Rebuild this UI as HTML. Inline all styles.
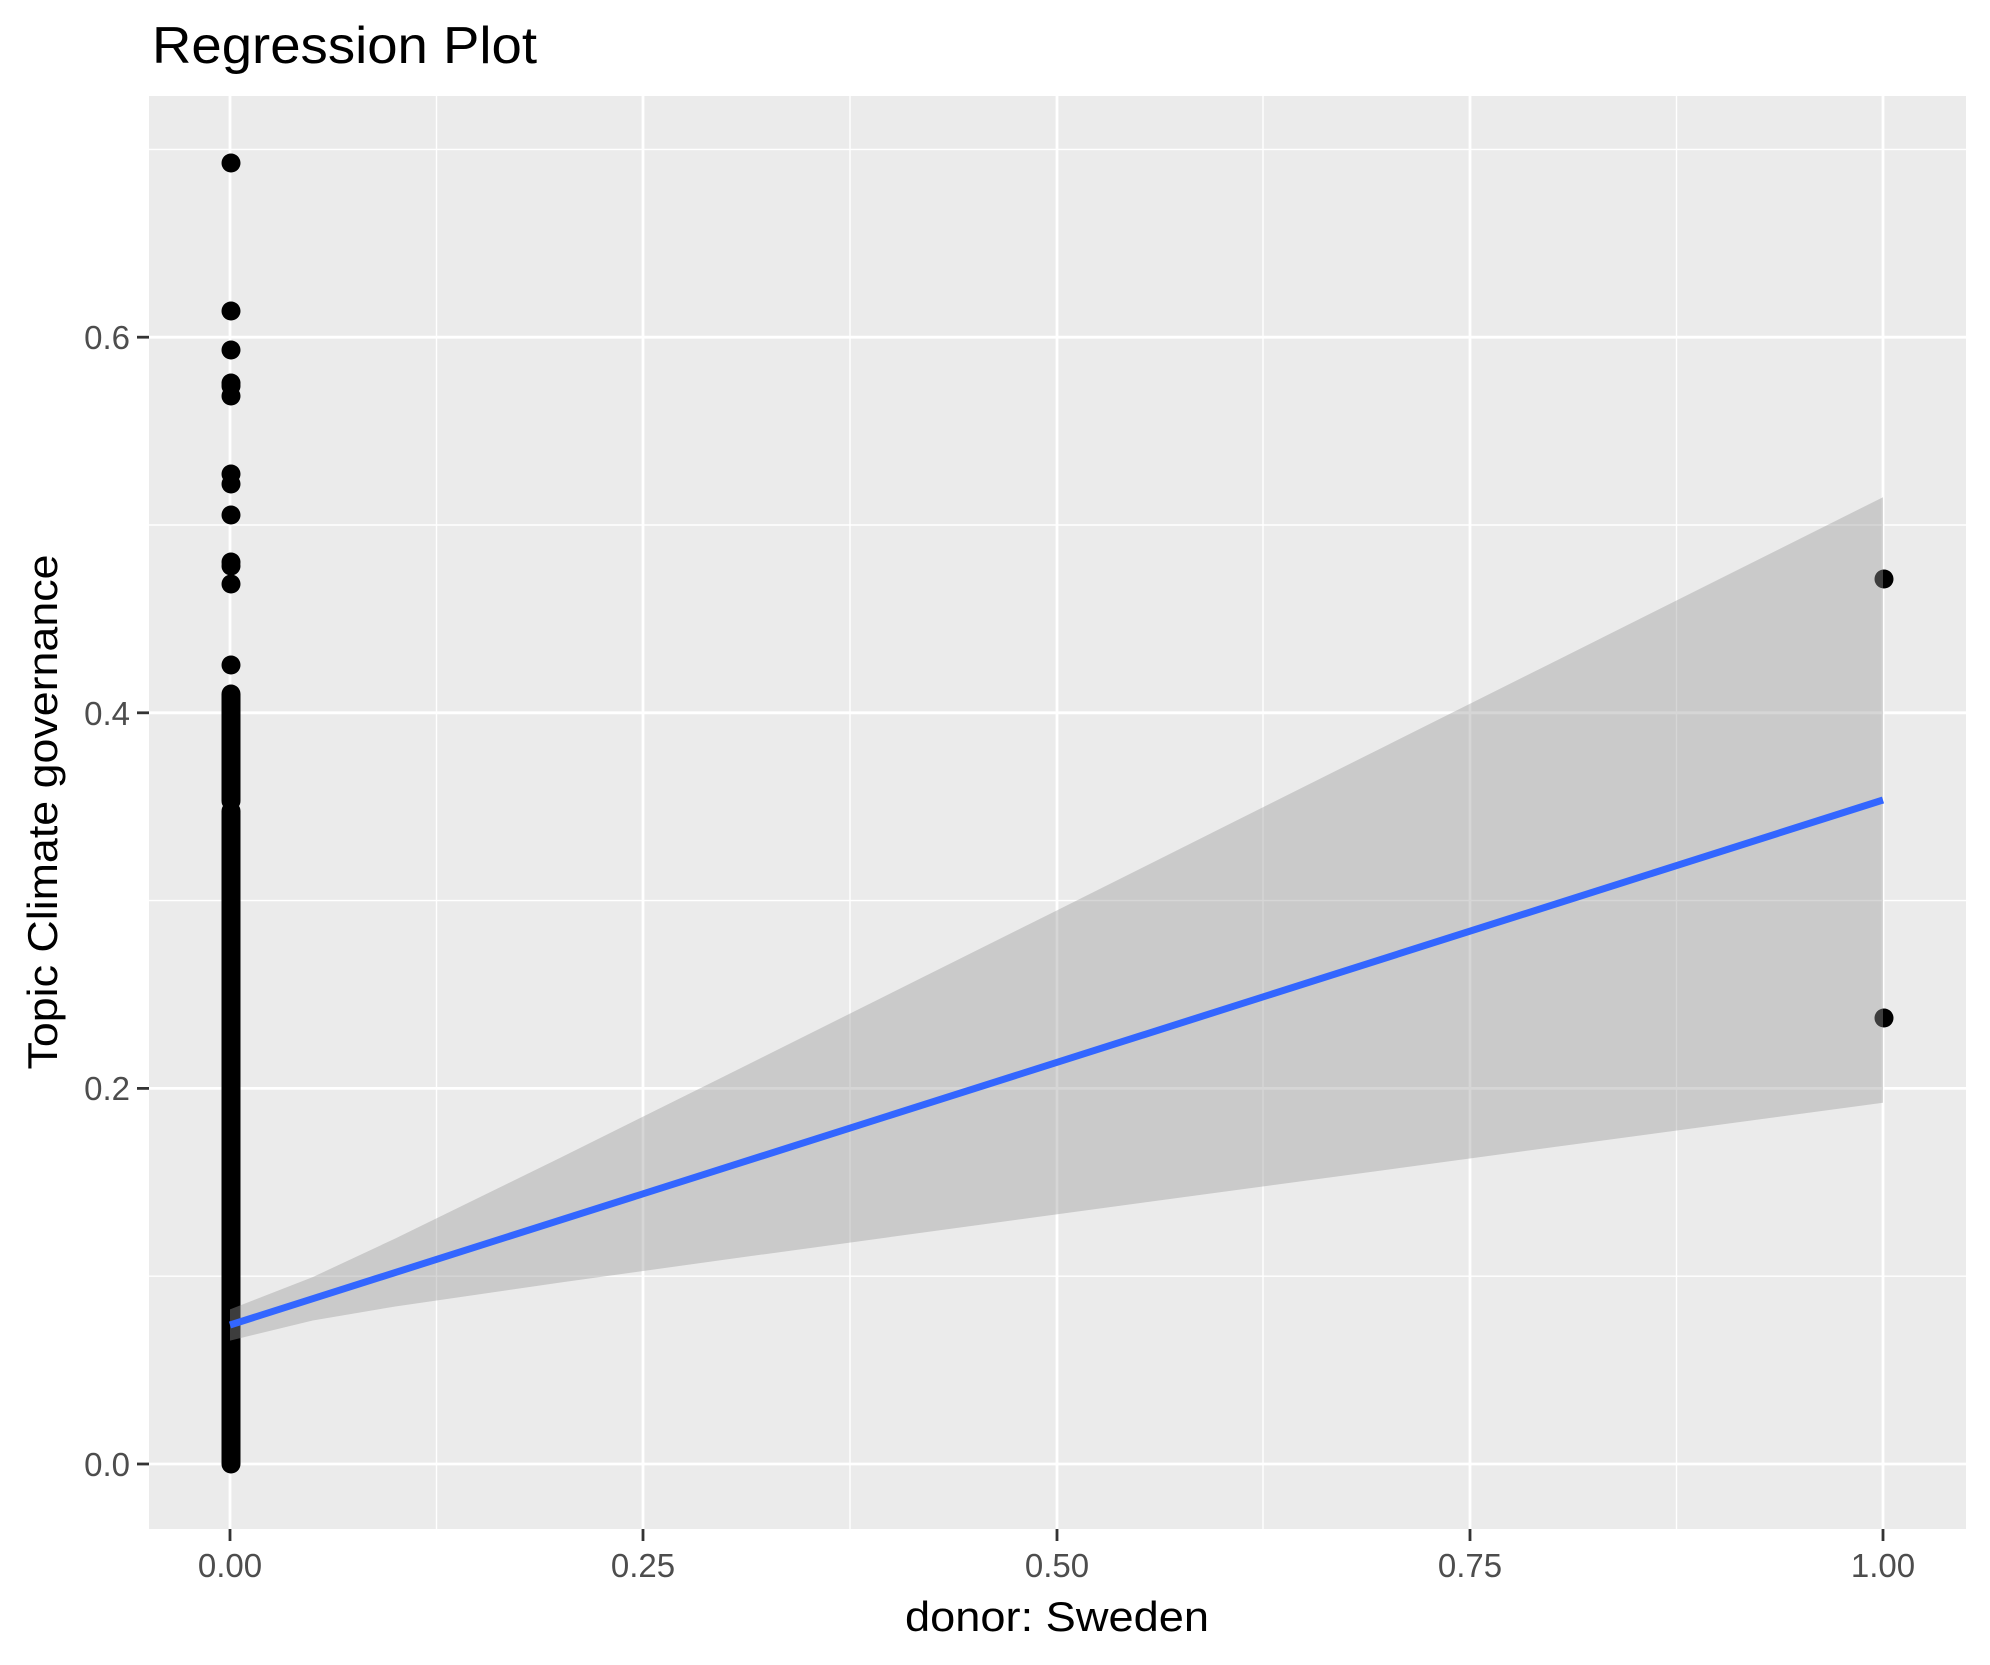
<!DOCTYPE html>
<html><head><meta charset="utf-8"><style>html,body{margin:0;padding:0;background:#fff}svg{display:block}</style></head>
<body>
<svg width="1990" height="1665" viewBox="0 0 1990 1665" xmlns="http://www.w3.org/2000/svg" font-family="Liberation Sans, sans-serif">
<rect x="0" y="0" width="1990" height="1665" fill="#fff"/>
<rect x="149" y="96" width="1817" height="1433" fill="#EBEBEB"/>
<g stroke="#fff" stroke-width="1.4">
<line x1="436.5" y1="96" x2="436.5" y2="1529"/><line x1="850" y1="96" x2="850" y2="1529"/><line x1="1263" y1="96" x2="1263" y2="1529"/><line x1="1676.5" y1="96" x2="1676.5" y2="1529"/>
<line x1="149" y1="1276.2" x2="1966" y2="1276.2"/><line x1="149" y1="900.6" x2="1966" y2="900.6"/><line x1="149" y1="525" x2="1966" y2="525"/><line x1="149" y1="149.4" x2="1966" y2="149.4"/>
</g>
<g stroke="#fff" stroke-width="2.8">
<line x1="230" y1="96" x2="230" y2="1529"/><line x1="643" y1="96" x2="643" y2="1529"/><line x1="1057" y1="96" x2="1057" y2="1529"/><line x1="1470" y1="96" x2="1470" y2="1529"/><line x1="1883" y1="96" x2="1883" y2="1529"/>
<line x1="149" y1="1464" x2="1966" y2="1464"/><line x1="149" y1="1088.4" x2="1966" y2="1088.4"/><line x1="149" y1="712.8" x2="1966" y2="712.8"/><line x1="149" y1="337.2" x2="1966" y2="337.2"/>
</g>
<g fill="#000">
<line x1="231" y1="811" x2="231" y2="1464" stroke="#000" stroke-width="19" stroke-linecap="round"/>
<line x1="231" y1="694" x2="231" y2="801" stroke="#000" stroke-width="19" stroke-linecap="round"/>
<circle cx="231" cy="665" r="9.5"/><circle cx="231" cy="584" r="9.5"/><circle cx="231" cy="566" r="9.5"/><circle cx="231" cy="562" r="9.5"/>
<circle cx="231" cy="515" r="9.5"/><circle cx="231" cy="484" r="9.5"/><circle cx="231" cy="474" r="9.5"/><circle cx="231" cy="396" r="9.5"/>
<circle cx="231" cy="386" r="9.5"/><circle cx="231" cy="383" r="9.5"/><circle cx="231" cy="350" r="9.5"/><circle cx="231" cy="311" r="9.5"/><circle cx="231" cy="163" r="9.5"/>
<circle cx="1884" cy="579" r="9.5"/><circle cx="1884" cy="1018" r="9.5"/>
</g>
<path fill="#999999" fill-opacity="0.4" d="M230,1309.4 L312.7,1277.1 L395.3,1238.5 L560.6,1157.6 L725.9,1075.5 L891.2,993.0 L1056.5,910.6 L1221.8,827.9 L1387.1,745.2 L1552.4,662.6 L1717.7,579.9 L1883,497.2 L1883,1102.7 L1717.7,1125.0 L1552.4,1147.3 L1387.1,1169.7 L1221.8,1192.0 L1056.5,1214.4 L891.2,1236.9 L725.9,1259.5 L560.6,1282.5 L395.3,1306.5 L312.7,1320.5 L230,1340.6 Z"/>
<line x1="230" y1="1325" x2="1883" y2="800" stroke="#3366FF" stroke-width="7"/>
<g fill="#4D4D4D" font-size="33" text-anchor="end">
<text x="130" y="1476">0.0</text><text x="130" y="1100">0.2</text><text x="130" y="725">0.4</text><text x="130" y="349">0.6</text>
</g>
<g stroke="#333" stroke-width="2.8">
<line x1="137" y1="1464" x2="149" y2="1464"/><line x1="137" y1="1088.4" x2="149" y2="1088.4"/><line x1="137" y1="712.8" x2="149" y2="712.8"/><line x1="137" y1="337.2" x2="149" y2="337.2"/>
<line x1="230" y1="1529" x2="230" y2="1541"/><line x1="643" y1="1529" x2="643" y2="1541"/><line x1="1057" y1="1529" x2="1057" y2="1541"/><line x1="1470" y1="1529" x2="1470" y2="1541"/><line x1="1883" y1="1529" x2="1883" y2="1541"/>
</g>
<g fill="#4D4D4D" font-size="33" text-anchor="middle">
<text x="230" y="1577">0.00</text><text x="643" y="1577">0.25</text><text x="1057" y="1577">0.50</text><text x="1470" y="1577">0.75</text><text x="1883" y="1577">1.00</text>
</g>
<text x="1057" y="1631" font-size="42" text-anchor="middle" fill="#000" textLength="304" lengthAdjust="spacingAndGlyphs">donor: Sweden</text>
<text transform="translate(57,812) rotate(-90)" font-size="42" text-anchor="middle" fill="#000" textLength="515" lengthAdjust="spacingAndGlyphs">Topic Climate governance</text>
<text x="152" y="63" font-size="52" fill="#000" textLength="385" lengthAdjust="spacingAndGlyphs">Regression Plot</text>
</svg>
</body></html>
